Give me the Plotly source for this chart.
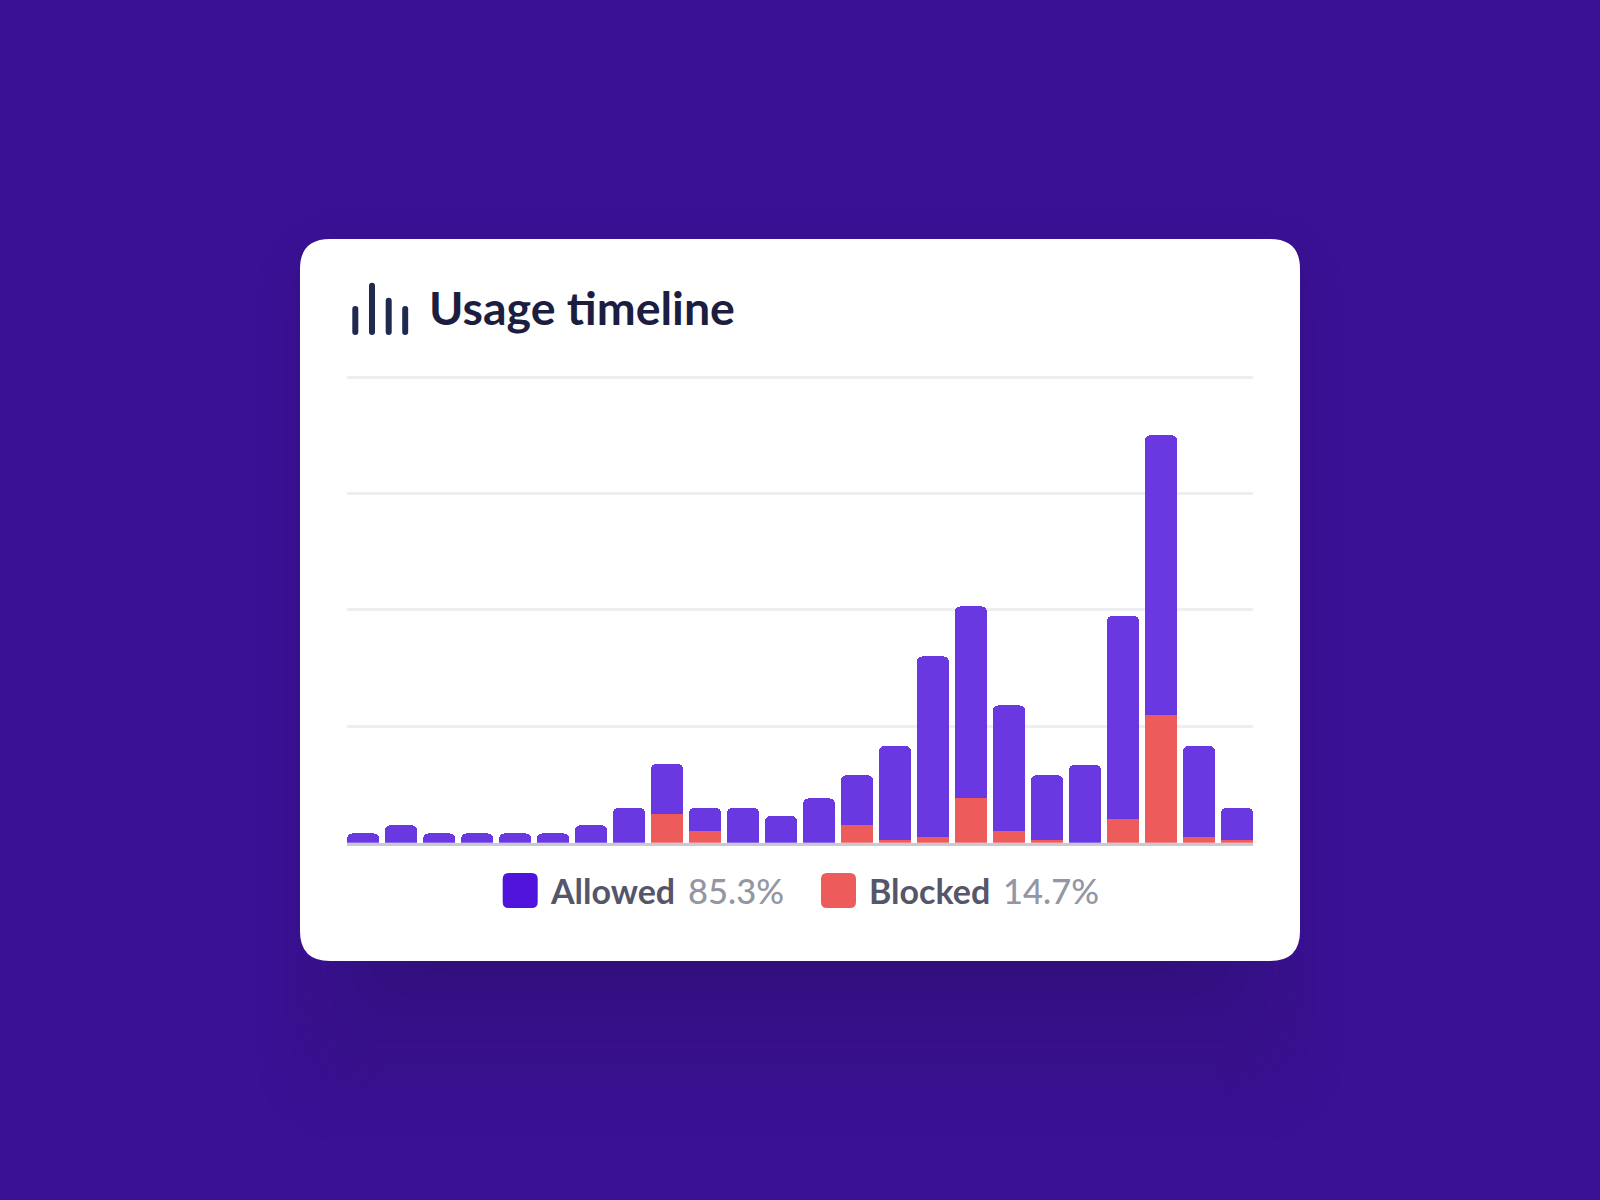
import plotly.graph_objects as go

W, H = 1600, 1200

# --- data ---
periods = list(range(1, 25))
blocked = [0, 0, 0, 0, 0, 0, 0, 0, 25, 10, 0, 0, 0, 15, 2, 5, 38, 10, 2, 0, 20, 110, 5, 2]
allowed = [8, 15, 8, 8, 8, 8, 15, 30, 43, 20, 30, 23, 38, 43, 81, 155, 165, 108, 56, 67, 175, 240, 78, 28]
grid_ticks = [0, 100, 200, 300, 400]
title_text = "Usage timeline"
series_names = ["Allowed", "Blocked"]
series_shares = ["85.3%", "14.7%"]

BG = "#3A1095"
BAR_ALLOWED = "#6A38E0"
BAR_BLOCKED = "#EE5B5B"
SWATCH_ALLOWED = "#4F13DB"
INK = "#1C1E3F"
ICON = "#1F2A4E"
LABEL = "#55566A"
MUTED = "#9496A3"
FONT = "Lato"
BG_RGB = (58, 16, 149)
SHADOW_RGB = (49, 15, 120)


def px(x):
    return x / W


def py(y):
    return 1 - y / H


def rrect(x0, y0, x1, y1, r):
    def p(x, y):
        return f"{px(x):.5f},{py(y):.5f}"
    return (
        f"M{p(x0 + r, y0)} L{p(x1 - r, y0)} Q{p(x1, y0)} {p(x1, y0 + r)} "
        f"L{p(x1, y1 - r)} Q{p(x1, y1)} {p(x1 - r, y1)} "
        f"L{p(x0 + r, y1)} Q{p(x0, y1)} {p(x0, y1 - r)} "
        f"L{p(x0, y0 + r)} Q{p(x0, y0)} {p(x0 + r, y0)} Z"
    )


def box(x0, y0, x1, y1, r, color):
    return dict(type="path", xref="paper", yref="paper", path=rrect(x0, y0, x1, y1, r),
                fillcolor=color, line=dict(width=0), layer="below")


shapes = []
# soft drop shadow under the card, as nested opaque tints (alpha stacking bands at 8 bits)
LAYERS = 30
for i in range(LAYERS, 0, -1):
    t = i / LAYERS
    side = -120 + 175 * t
    down = 200 * t ** 1.4
    mix = t ** 0.8
    rgb = [round(s + (b - s) * mix) for s, b in zip(SHADOW_RGB, BG_RGB)]
    shapes.append(box(300 - side, 250 - side, 1300 + side, 961 + down, 40 + 60 * t,
                      f"rgb({rgb[0]},{rgb[1]},{rgb[2]})"))
# card
shapes.append(box(300, 239, 1300, 961, 30, "#FFFFFF"))
# title icon
for x0, y0 in [(352.3, 306), (369, 282.7), (385.7, 297.7), (402.2, 306)]:
    shapes.append(box(x0, y0, x0 + 6, 335, 3, ICON))
# legend swatches
shapes.append(box(502.7, 873, 537.7, 908, 6, SWATCH_ALLOWED))
shapes.append(box(821, 873, 856, 908, 6, BAR_BLOCKED))


def label(x, y, text, size, color, weight):
    return dict(xref="paper", yref="paper", x=px(x), y=py(y), xanchor="left", yanchor="middle",
                text=text, showarrow=False, align="left",
                font=dict(family=FONT, size=size, color=color, weight=weight))


annotations = [
    label(427, 307, title_text, 46.5, INK, 700),
    label(548, 890, series_names[0], 34, LABEL, 700),
    label(686, 890, series_shares[0], 34.5, MUTED, 500),
    label(867, 890, series_names[1], 34, LABEL, 700),
    label(1001, 890, series_shares[1], 34.5, MUTED, 500),
]

fig = go.Figure()
fig.add_bar(x=periods, y=blocked, name=series_names[1], marker=dict(color=BAR_BLOCKED, line=dict(width=0)))
fig.add_bar(x=periods, y=allowed, name=series_names[0], marker=dict(color=BAR_ALLOWED, line=dict(width=0)))

fig.update_layout(
    width=W, height=H, autosize=False,
    margin=dict(l=0, r=0, t=0, b=0),
    paper_bgcolor=BG, plot_bgcolor="rgba(0,0,0,0)",
    barmode="stack", bargap=0.14, barcornerradius=6,
    showlegend=False,
    shapes=shapes, annotations=annotations,
    xaxis=dict(domain=[px(346.7), px(1253.3)], range=[0.57, 24.43], showticklabels=False, ticks="",
               showgrid=False, zeroline=False, showline=True, linecolor="#C9C9D3", linewidth=3),
    yaxis=dict(domain=[py(842.7), py(371.2)], range=[0, 405], tickmode="array", tickvals=grid_ticks,
               showticklabels=False, ticks="", showgrid=True, gridcolor="#EEEEF0", gridwidth=2.5,
               zeroline=False, showline=False),
)

fig.write_html("out.html", config={"displayModeBar": False},
               post_script="document.body.style.margin='0';document.body.style.overflow='hidden';")
